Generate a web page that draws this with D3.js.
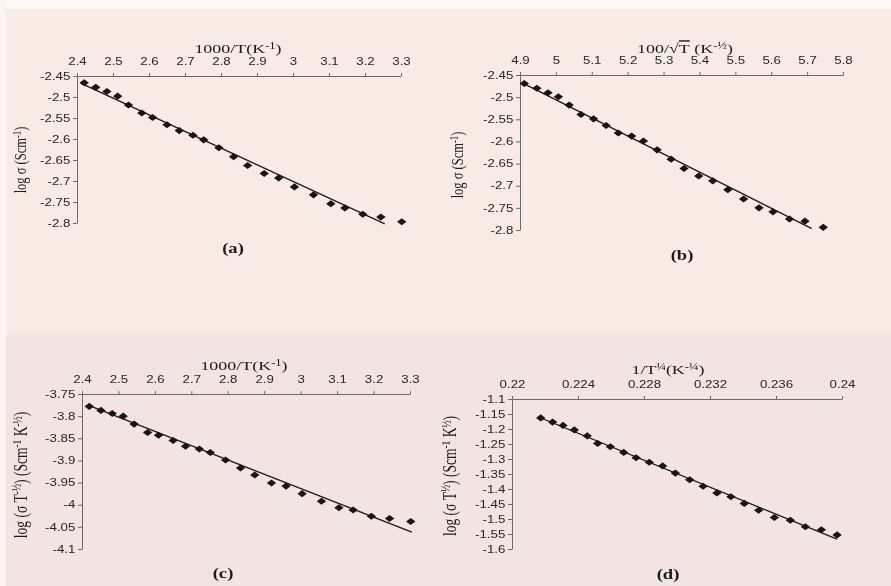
<!DOCTYPE html>
<html>
<head>
<meta charset="utf-8">
<script src="https://cdn.jsdelivr.net/npm/d3@7"></script>
<style>
  body { margin: 0; background: #f8ebe6; }
  svg { display: block; }
  .tick text { font-family: "Liberation Sans", Arial, sans-serif; font-size: 10px; fill: #262626; }
  .ttl { font-family: "Liberation Serif", "Times New Roman", serif; fill: #1a1a1a; }
</style>
</head>
<body>
<script>
// 1000/T (K^-1) : zelfde temperaturen in (a) en (c)
var invT = [2.42, 2.452, 2.483, 2.513, 2.543, 2.58, 2.61, 2.65, 2.684, 2.722, 2.752, 2.794,
            2.835, 2.874, 2.92, 2.96, 3.004, 3.057, 3.105, 3.144, 3.194, 3.244, 3.302]
var logSigA = [-2.466, -2.477, -2.487, -2.498, -2.519, -2.538, -2.549, -2.566, -2.58, -2.591, -2.602, -2.621,
               -2.642, -2.663, -2.682, -2.693, -2.714, -2.733, -2.754, -2.764, -2.779, -2.786, -2.797]

// 100/sqrt(T)
var rootT = [4.912, 4.947, 4.978, 5.007, 5.037, 5.07, 5.105, 5.14, 5.174, 5.211, 5.244, 5.282,
             5.321, 5.357, 5.398, 5.437, 5.479, 5.523, 5.566, 5.605, 5.651, 5.694, 5.745]
var logSigB = [-2.469, -2.48, -2.49, -2.499, -2.518, -2.539, -2.549, -2.564, -2.581, -2.588, -2.599, -2.619,
               -2.64, -2.661, -2.678, -2.689, -2.709, -2.73, -2.75, -2.759, -2.775, -2.78, -2.794]

// log(sigma T^-1/2)
var logSigTC = [-3.778, -3.787, -3.794, -3.8, -3.818, -3.837, -3.843, -3.855, -3.868, -3.874, -3.882, -3.899,
                -3.917, -3.933, -3.951, -3.958, -3.975, -3.992, -4.007, -4.012, -4.026, -4.031, -4.038]

// 1/T^1/4 en log(sigma T^1/2)
var quarterT = [0.22174, 0.22246, 0.22309, 0.22378, 0.22456, 0.22519, 0.22596, 0.22677, 0.22752, 0.22832, 0.22913, 0.2299,
                0.23077, 0.23158, 0.23242, 0.23327, 0.23408, 0.23495, 0.2359, 0.23687, 0.23778, 0.23875, 0.2397]
var logSigTD = [-1.163, -1.177, -1.188, -1.203, -1.223, -1.248, -1.259, -1.278, -1.296, -1.311, -1.323, -1.347,
                -1.369, -1.391, -1.413, -1.426, -1.448, -1.471, -1.495, -1.504, -1.526, -1.536, -1.553]

// fit lijnen (begin- en eindpunt)
var fitA = [[2.41, -2.467], [3.255, -2.802]]
var fitB = [[4.905, -2.467], [5.713, -2.797]]
var fitC = [[2.42, -3.776], [3.305, -4.062]]
var fitD = [[0.2216, -1.16], [0.2397, -1.567]]

// tick labels
var xTicksInvT = [2.4, 2.5, 2.6, 2.7, 2.8, 2.9, 3, 3.1, 3.2, 3.3]
var xTicksRoot = [4.9, 5, 5.1, 5.2, 5.3, 5.4, 5.5, 5.6, 5.7, 5.8]
var xTicksQuarter = [0.22, 0.224, 0.228, 0.232, 0.236, 0.24]
var yTicksSig = [-2.45, -2.5, -2.55, -2.6, -2.65, -2.7, -2.75, -2.8]
var yTicksC = [-3.75, -3.8, -3.85, -3.9, -3.95, -4, -4.05, -4.1]
var yTicksD = [-1.1, -1.15, -1.2, -1.25, -1.3, -1.35, -1.4, -1.45, -1.5, -1.55, -1.6]

var width = 891
var height = 586
var stretch = 1.33   // de scan is horizontaal uitgerekt

var panels = [
  {x: invT, y: logSigA, fit: fitA, xDom: [2.4, 3.3], yDom: [-2.45, -2.8], xTicks: xTicksInvT, yTicks: yTicksSig,
   frame: {x0: 77, x1: 401, y0: 76, y1: 223},
   xTitle: [["1000/T(K"], ["-1", "sup"], [")"]], xTitlePos: [238, 53],
   yTitle: [["log σ (Scm"], ["-1", "sup"], [")"]], yTitlePos: [26, 160], ySize: 12.5,
   label: "(a)", labelPos: [233, 253]},
  {x: rootT, y: logSigB, fit: fitB, xDom: [4.9, 5.8], yDom: [-2.45, -2.8], xTicks: xTicksRoot, yTicks: yTicksSig,
   frame: {x0: 520, x1: 843, y0: 75, y1: 230},
   xTitle: [["100/√"], ["T", "over"], [" (K"], ["-½", "sup"], [")"]], xTitlePos: [685, 53],
   yTitle: [["log σ (Scm"], ["-1", "sup"], [")"]], yTitlePos: [463, 165], ySize: 12.5,
   label: "(b)", labelPos: [682, 260]},
  {x: invT, y: logSigTC, fit: fitC, xDom: [2.4, 3.3], yDom: [-3.75, -4.1], xTicks: xTicksInvT, yTicks: yTicksC,
   frame: {x0: 82, x1: 410, y0: 394, y1: 549},
   xTitle: [["1000/T(K"], ["-1", "sup"], [")"]], xTitlePos: [244, 370],
   yTitle: [["log (σ T"], ["-½", "sup"], [") (Scm"], ["-1", "sup"], [" K"], ["-½", "sup"], [")"]], yTitlePos: [27, 475], ySize: 13.5,
   label: "(c)", labelPos: [223, 578]},
  {x: quarterT, y: logSigTD, fit: fitD, xDom: [0.22, 0.24], yDom: [-1.1, -1.6], xTicks: xTicksQuarter, yTicks: yTicksD,
   frame: {x0: 512, x1: 842, y0: 399, y1: 549},
   xTitle: [["1/T"], ["¼", "sup"], ["(K"], ["-¼", "sup"], [")"]], xTitlePos: [668, 374],
   yTitle: [["log (σ T"], ["½", "sup"], [") (Scm"], ["-1", "sup"], [" K"], ["½", "sup"], [")"]], yTitlePos: [456, 476], ySize: 13.5,
   label: "(d)", labelPos: [668, 579]}
]

var svg = d3.select("body").append("svg")
    .attr("width", width)
    .attr("height", height)

var defs = svg.append("defs")
defs.append("filter").attr("id", "scan")
  .append("feGaussianBlur").attr("stdDeviation", 0.4)

// papier achtergrond
svg.append("rect").attr("width", width).attr("height", height).attr("fill", "#f8ebe6")
svg.append("rect").attr("y", 335).attr("width", width).attr("height", height - 335).attr("fill", "#f1e4e2")
svg.append("rect").attr("width", width).attr("height", 9).attr("fill", "#fdf8f6")
svg.append("rect").attr("width", 6).attr("height", height).attr("fill", "#fbf4f1")

var root = svg.append("g").attr("filter", "url(#scan)")

var fmt = d => String(+d.toFixed(4))

// tekst met superscript stukjes
function richText(g, parts, size) {
  var t = g.append("text").attr("class", "ttl").attr("text-anchor", "middle").style("font-size", size + "px")
  var up = false
  parts.forEach(p => {
    var s = t.append("tspan").text(p[0])
    if (p[1] == "sup") {
      s.attr("dy", "-0.45em").style("font-size", "70%")
      up = true
    } else {
      if (up) s.attr("dy", "0.32em")
      up = false
      if (p[1] == "over") s.style("text-decoration", "overline")
    }
  })
  return t
}

panels.forEach(p => {
  var x = d3.scaleLinear().domain(p.xDom).range([p.frame.x0, p.frame.x1])
  var y = d3.scaleLinear().domain(p.yDom).range([p.frame.y0, p.frame.y1])
  var g = root.append("g")

  // x as bovenaan
  g.append("g")
    .attr("transform", `translate(0,${p.frame.y0})`)
    .call(d3.axisTop(x).tickValues(p.xTicks).tickFormat(fmt).tickSize(3).tickSizeOuter(0).tickPadding(8))
    .selectAll("text").attr("transform", `scale(${stretch},1)`)

  // y as links
  g.append("g")
    .attr("transform", `translate(${p.frame.x0},0)`)
    .call(d3.axisLeft(y).tickValues(p.yTicks).tickFormat(fmt).tickSize(4).tickSizeOuter(0).tickPadding(1))
    .selectAll("text").attr("transform", `scale(${stretch},1)`)

  g.selectAll(".domain").attr("stroke", "#6a6a6a")
  g.selectAll(".tick line").attr("stroke", "#6a6a6a")

  // fit lijn
  g.append("path")
    .datum(p.fit)
    .attr("d", d3.line().x(d => x(d[0])).y(d => y(d[1])))
    .attr("fill", "none")
    .attr("stroke", "#1c1c1c")
    .attr("stroke-width", 1.35)

  // meetpunten als ruitjes
  var pts = d3.range(p.x.length).map(i => [p.x[i], p.y[i]])
  g.selectAll(".pt")
    .data(pts)
    .enter().append("path")
    .attr("class", "pt")
    .attr("d", d3.symbol(d3.symbolSquare, 25))
    .attr("transform", d => `translate(${x(d[0])},${y(d[1])}) scale(${stretch},1) rotate(45)`)
    .attr("fill", "#161616")

  // titels
  var xt = g.append("g").attr("transform", `translate(${p.xTitlePos[0]},${p.xTitlePos[1]}) scale(${stretch},1)`)
  richText(xt, p.xTitle, 13.5)

  var yt = g.append("g").attr("transform", `translate(${p.yTitlePos[0]},${p.yTitlePos[1]}) scale(${stretch},1) rotate(-90)`)
  richText(yt, p.yTitle, p.ySize)

  var lb = g.append("g").attr("transform", `translate(${p.labelPos[0]},${p.labelPos[1]}) scale(${stretch},1)`)
  richText(lb, [[p.label]], 14).style("font-weight", "bold")
})
</script>
</body>
</html>
